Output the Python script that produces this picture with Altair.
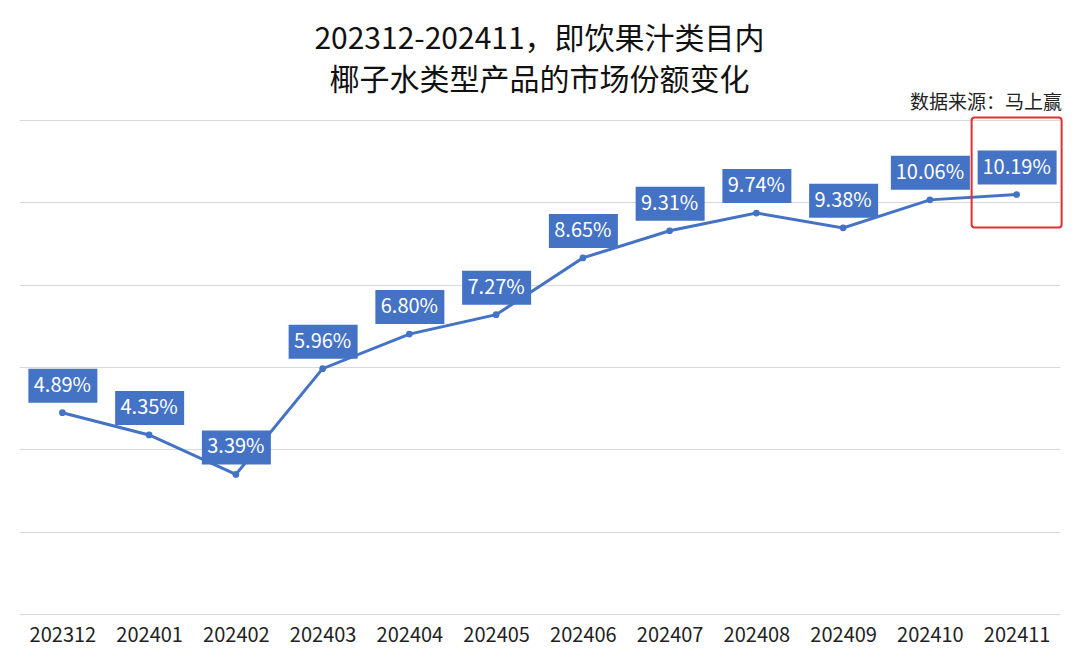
import altair as alt
import pandas as pd

months = ["202312", "202401", "202402", "202403", "202404", "202405",
          "202406", "202407", "202408", "202409", "202410", "202411"]
shares = [4.89, 4.35, 3.39, 5.96, 6.80, 7.27, 8.65, 9.31, 9.74, 9.38, 10.06, 10.19]
labels = ["4.89%", "4.35%", "3.39%", "5.96%", "6.80%", "7.27%",
          "8.65%", "9.31%", "9.74%", "9.38%", "10.06%", "10.19%"]
highlight_month = "202411"

df = pd.DataFrame({"month": months, "share": shares, "label": labels})
df["wide"] = df["label"].str.len() > 5

BLUE = "#4472C4"
FONT = "Noto Sans CJK SC"

x = alt.X("month:N", sort=months,
          scale=alt.Scale(type="point", padding=0.5),
          axis=alt.Axis(title=None, labelAngle=0, labelFontSize=20, labelColor="#222222",
                        labelFont=FONT, ticks=False, domain=False, labelPadding=11))
y = alt.Y("share:Q", scale=alt.Scale(domain=[0, 12]),
          axis=alt.Axis(title=None, labels=False, ticks=False, domain=False,
                        values=[0, 2, 4, 6, 8, 10, 12], gridColor="#d9d9d9", gridWidth=1.2))

base = alt.Chart(df)

line = base.mark_line(color=BLUE, strokeWidth=3).encode(x=x, y=y)
pts = base.mark_circle(color=BLUE, size=45, opacity=1).encode(x=x, y=y)

box_narrow = base.transform_filter("!datum.wide").mark_rect(
    color=BLUE, xOffset=-34, x2Offset=35, yOffset=-44, y2Offset=-10
).encode(x=x, x2="month:N", y=y, y2="share:Q")
box_wide = base.transform_filter("datum.wide").mark_rect(
    color=BLUE, xOffset=-39, x2Offset=40, yOffset=-44, y2Offset=-10
).encode(x=x, x2="month:N", y=y, y2="share:Q")

txt = base.mark_text(color="white", fontSize=20, font=FONT, dy=-27, baseline="middle").encode(
    x=x, y=y, text="label:N")

hl = base.transform_filter(f"datum.month == '{highlight_month}'").mark_rect(
    fill=None, stroke="#e03030", strokeWidth=2, cornerRadius=3,
    xOffset=-45, x2Offset=45, yOffset=-77, y2Offset=33
).encode(x=x, x2="month:N", y=y, y2="share:Q")

source = alt.Chart(pd.DataFrame({"t": ["数据来源：马上赢"]})).mark_text(
    align="right", baseline="middle", fontSize=19, font=FONT, color="#222222"
).encode(x=alt.value(1043), y=alt.value(-17), text="t:N")

chart = alt.layer(line, box_narrow, box_wide, pts, txt, hl, source).properties(
    width=1041, height=494,
    title=alt.TitleParams(
        ["202312-202411，即饮果汁类目内", "椰子水类型产品的市场份额变化"],
        fontSize=30, font=FONT, fontWeight="normal", color="#111111",
        anchor="middle", lineHeight=41, offset=-2),
    autosize=alt.AutoSizeParams(type="none"),
    padding={"left": 19, "top": 120, "right": 20, "bottom": 52},
).configure(background="white").configure_view(stroke=None)

chart.save("out.html", embed_options={"renderer": "svg", "actions": False})
